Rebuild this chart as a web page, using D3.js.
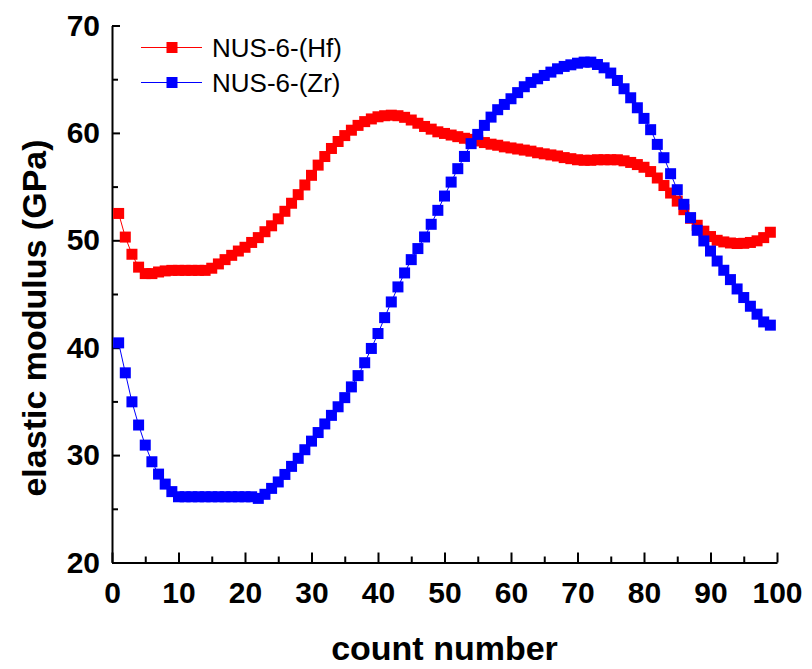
<!DOCTYPE html>
<html lang="en">
<head>
  <meta charset="UTF-8">
  <title>Elastic modulus vs count number</title>
  <script src="https://d3js.org/d3.v7.min.js"></script>
  <style>
    body { margin: 0; padding: 0; background: #fff; }
    svg { display: block; }
    .axis path, .axis line { stroke: #000; stroke-width: 2; }
    .axis text { font-family: "Liberation Sans", Arial, sans-serif; font-weight: bold; font-size: 30px; fill: #000; }
    .title { font-family: "Liberation Sans", Arial, sans-serif; font-weight: bold; font-size: 34px; fill: #000; }
    .legend text { font-family: "Liberation Sans", Arial, sans-serif; font-size: 26px; fill: #000; }
  </style>
</head>
<body>
  <svg id="chart" width="812" height="669"></svg>

  <script>
    // elastic modulus (GPa) per count number
    const hfModulus = [
      52.5, 50.3, 48.7, 47.5, 46.9, 46.9, 47.05, 47.15, 47.2, 47.2,
      47.2, 47.2, 47.2, 47.2, 47.4, 47.8, 48.2, 48.6, 49.0, 49.35,
      49.8, 50.25, 50.8, 51.35, 52.0, 52.7, 53.45, 54.25, 55.15, 56.05,
      57.0, 57.8, 58.55, 59.2, 59.75, 60.25, 60.7, 61.05, 61.3, 61.5,
      61.6, 61.65, 61.6, 61.45, 61.2, 60.9, 60.6, 60.35, 60.1, 59.95,
      59.8, 59.65, 59.5, 59.4, 59.25, 59.1, 58.95, 58.85, 58.7, 58.6,
      58.5, 58.4, 58.3, 58.15, 58.05, 57.95, 57.85, 57.7, 57.6, 57.5,
      57.45, 57.45, 57.5, 57.5, 57.5, 57.5, 57.4, 57.25, 57.05, 56.8,
      56.4, 55.8, 55.1, 54.4, 53.65, 52.85, 52.05, 51.4, 50.85, 50.35,
      50.0, 49.85, 49.75, 49.7, 49.72, 49.8, 49.95, 50.25, 50.75
    ];
    const zrModulus = [
      40.45, 37.66, 34.96, 32.8, 30.93, 29.38, 28.23, 27.3, 26.6, 26.12,
      26.12, 26.12, 26.12, 26.12, 26.12, 26.12, 26.12, 26.12, 26.12, 26.12,
      26.12, 25.97, 26.35, 26.9, 27.5, 28.2, 28.95, 29.7, 30.5, 31.3,
      32.1, 32.9, 33.7, 34.5, 35.35, 36.35, 37.4, 38.6, 39.93, 41.32,
      42.8, 44.26, 45.66, 46.96, 48.2, 49.23, 50.31, 51.49, 52.79, 54.12,
      55.42, 56.67, 57.81, 59.0, 59.86, 60.7, 61.47, 62.16, 62.65, 63.18,
      63.75, 64.3, 64.7, 65.04, 65.35, 65.66, 65.97, 66.19, 66.34, 66.49,
      66.59, 66.59, 66.37, 66.06, 65.57, 64.88, 64.11, 63.27, 62.34, 61.35,
      60.3, 58.93, 57.69, 56.2, 54.71, 53.35, 52.11, 50.93, 49.94, 49.0,
      48.07, 47.21, 46.34, 45.47, 44.67, 43.86, 43.12, 42.4, 42.1
    ];
    const seriesNames = ["NUS-6-(Hf)", "NUS-6-(Zr)"];
    const seriesColors = ["#ff0000", "#0000ff"];
    const xTicks = [0, 10, 20, 30, 40, 50, 60, 70, 80, 90, 100];
    const yTicks = [20, 30, 40, 50, 60, 70];

    const svg = d3.select("#chart");
    const x = d3.scaleLinear().domain([0, 100]).range([112, 777]);
    const y = d3.scaleLinear().domain([20, 70]).range([562.5, 25.5]);

    // minor ticks (every 5)
    svg.append("g")
      .attr("class", "axis")
      .attr("transform", "translate(0,562.5)")
      .call(d3.axisBottom(x).tickValues(d3.range(5, 100, 10)).tickSize(-6).tickFormat(""))
      .select(".domain").remove();
    svg.append("g")
      .attr("class", "axis")
      .attr("transform", "translate(112,0)")
      .call(d3.axisLeft(y).tickValues(d3.range(25, 70, 10)).tickSize(-6).tickFormat(""))
      .select(".domain").remove();

    // main axes, ticks pointing inward
    svg.append("g")
      .attr("class", "axis")
      .attr("transform", "translate(0,562.5)")
      .call(d3.axisBottom(x).tickValues(xTicks).tickSize(-10).tickSizeOuter(0).tickPadding(19));
    svg.append("g")
      .attr("class", "axis")
      .attr("transform", "translate(112,0)")
      .call(d3.axisLeft(y).tickValues(yTicks).tickSize(-8).tickSizeOuter(0).tickPadding(12));

    svg.append("text")
      .attr("class", "title")
      .attr("x", 444.5)
      .attr("y", 660)
      .attr("text-anchor", "middle")
      .text("count number");

    svg.append("text")
      .attr("class", "title")
      .attr("transform", "translate(46,318) rotate(-90)")
      .attr("text-anchor", "middle")
      .text("elastic modulus (GPa)");

    const line = d3.line()
      .x(d => x(d.n))
      .y(d => y(d.v));

    [hfModulus, zrModulus].forEach((vals, i) => {
      const pts = vals.map((v, k) => ({n: k + 1, v}));
      const g = svg.append("g");
      g.append("path")
        .datum(pts)
        .attr("fill", "none")
        .attr("stroke", seriesColors[i])
        .attr("stroke-width", 1)
        .attr("d", line);
      g.selectAll("rect")
        .data(pts)
        .enter().append("rect")
        .attr("x", d => x(d.n) - 5.5)
        .attr("y", d => y(d.v) - 5.5)
        .attr("width", 11)
        .attr("height", 11)
        .attr("fill", seriesColors[i]);
    });

    // legend
    const legend = svg.append("g").attr("class", "legend");
    seriesNames.forEach((name, i) => {
      const ly = 47.5 + i * 35;
      legend.append("line")
        .attr("x1", 141).attr("x2", 202)
        .attr("y1", ly).attr("y2", ly)
        .attr("stroke", seriesColors[i])
        .attr("stroke-width", 1);
      legend.append("rect")
        .attr("x", 166.5).attr("y", ly - 5.5)
        .attr("width", 11).attr("height", 11)
        .attr("fill", seriesColors[i]);
      legend.append("text")
        .attr("x", 212)
        .attr("y", ly + 9.2)
        .text(name);
    });
  </script>
</body>
</html>
